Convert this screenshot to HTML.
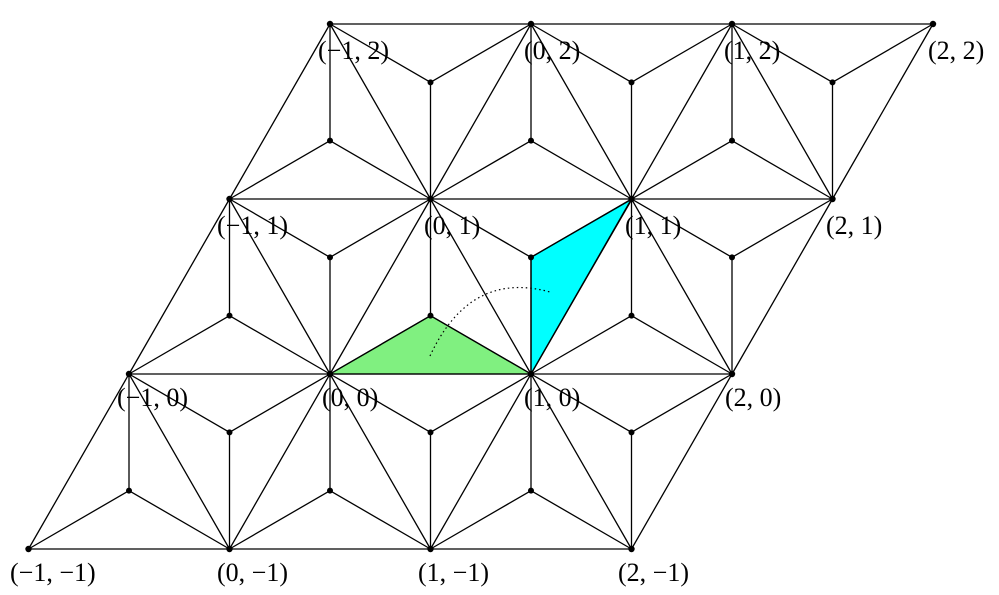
<!DOCTYPE html>
<html><head><meta charset="utf-8"><style>
html,body{margin:0;padding:0;background:#fff;}
svg{display:block;}
text{font-family:"Liberation Serif",serif;font-size:26px;fill:#000;}
</style></head><body>
<svg id="s" width="999" height="595" viewBox="0 0 999 595" xmlns="http://www.w3.org/2000/svg">
<polygon points="330,374 531,374 430.5,315.7" fill="#80f080" stroke="#000" stroke-width="1.3"/>
<polygon points="531,374 632,199 531,257.3" fill="#00ffff" stroke="#000" stroke-width="1.3"/>
<g id="lines" stroke="#000" stroke-width="1.3" fill="none"></g>
<path d="M430,356 Q470,270 550,292" stroke="#000" stroke-width="1.2" fill="none" stroke-dasharray="1.5,3"/>
<g id="dots" fill="#000"></g>
<text x="318" y="59">(−1, 2)</text>
<text x="524" y="59">(0, 2)</text>
<text x="724" y="59">(1, 2)</text>
<text x="928" y="59">(2, 2)</text>
<text x="217" y="234">(−1, 1)</text>
<text x="424" y="234">(0, 1)</text>
<text x="625" y="234">(1, 1)</text>
<text x="826" y="234">(2, 1)</text>
<text x="117" y="406">(−1, 0)</text>
<text x="322" y="406">(0, 0)</text>
<text x="524" y="406">(1, 0)</text>
<text x="725" y="406">(2, 0)</text>
<text x="10" y="581">(−1, −1)</text>
<text x="217" y="581">(0, −1)</text>
<text x="418" y="581">(1, −1)</text>
<text x="618" y="581">(2, −1)</text>
</svg>
<script>
(function(){
var NS="http://www.w3.org/2000/svg";
function P(i,j){return [330+201*i+100.5*j, 374-175*j];}
var L=document.getElementById("lines"),D=document.getElementById("dots");
function line(a,b){var e=document.createElementNS(NS,"line");e.setAttribute("x1",a[0]);e.setAttribute("y1",a[1]);e.setAttribute("x2",b[0]);e.setAttribute("y2",b[1]);L.appendChild(e);}
function dot(p,r){var c=document.createElementNS(NS,"circle");c.setAttribute("cx",p[0]);c.setAttribute("cy",p[1]);c.setAttribute("r",r);D.appendChild(c);}
for(var i=-1;i<=2;i++)for(var j=-1;j<=2;j++){
  var p=P(i,j);dot(p,3.2);
  if(i<2)line(p,P(i+1,j));
  if(j<2)line(p,P(i,j+1));
  if(i<2&&j<2)line(P(i+1,j),P(i,j+1));
}
function cen(a,b,c){return [(a[0]+b[0]+c[0])/3,(a[1]+b[1]+c[1])/3];}
for(var i=-1;i<2;i++)for(var j=-1;j<2;j++){
  var tris=[[P(i,j),P(i+1,j),P(i,j+1)],[P(i+1,j),P(i,j+1),P(i+1,j+1)]];
  tris.forEach(function(t){var c=cen(t[0],t[1],t[2]);t.forEach(function(v){line(c,v);});dot(c,3);});
}
})();
</script>
</body></html>
